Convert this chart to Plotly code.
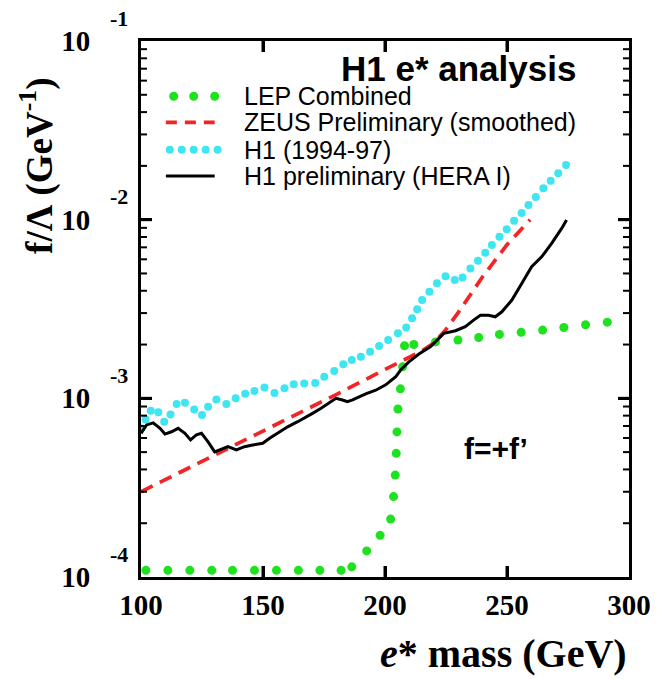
import plotly.graph_objects as go

# ---- limits on f/Lambda versus excited-electron mass ----
lep_mass = [102, 111, 120, 129, 137.5, 146.5, 155.5, 164.5, 173.3, 182, 186.4, 192.5,
            198, 202.3, 203.5, 204.2, 204.6, 204.9, 205.3, 206.3, 207.2, 208, 211.8,
            220.7, 229.9, 238.4, 246.9, 255.8, 264.6, 273.3, 282.2, 291.1]
lep_limit = [1.09e-4, 1.09e-4, 1.09e-4, 1.09e-4, 1.09e-4, 1.09e-4, 1.09e-4, 1.09e-4,
             1.09e-4, 1.09e-4, 1.14e-4, 1.40e-4, 1.71e-4, 2.11e-4, 2.82e-4, 3.72e-4,
             4.92e-4, 6.49e-4, 8.71e-4, 1.13e-3, 1.50e-3, 1.97e-3, 2.00e-3, 2.07e-3,
             2.12e-3, 2.19e-3, 2.28e-3, 2.34e-3, 2.41e-3, 2.49e-3, 2.58e-3, 2.67e-3]

zeus_mass = [100, 120, 140, 160, 180, 200, 210, 215, 220, 225, 230, 240, 250, 259.5]
zeus_limit = [3.00e-4, 4.10e-4, 5.62e-4, 7.69e-4, 1.05e-3, 1.45e-3, 1.70e-3, 1.84e-3,
              2.04e-3, 2.43e-3, 3.02e-3, 4.79e-3, 7.24e-3, 1.00e-2]

h1_old_mass = [100, 101.9, 104.0, 107.1, 109.5, 112.1, 114.6, 118.0, 121.8, 125.0, 127.5,
               130.9, 135.0, 138.8, 142.7, 146.5, 150.6, 154.7, 158.8, 162.6, 166.9, 171.4,
               175.1, 179.2, 182.9, 186.4, 190.1, 193.9, 197.6, 201.3, 205.3, 208.7, 211.1,
               213.2, 215.2, 218.2, 221.3, 224.8, 228.6, 231.8, 235.0, 238.1, 241.1, 243.8,
               246.9, 249.9, 252.9, 256.0, 258.8, 261.8, 264.9, 267.9, 271.0, 274.2]
h1_old_limit = [6.79e-4, 7.62e-4, 8.53e-4, 8.36e-4, 7.40e-4, 8.13e-4, 9.29e-4, 9.44e-4,
                8.67e-4, 8.07e-4, 8.97e-4, 9.86e-4, 9.29e-4, 1.00e-3, 1.06e-3, 1.10e-3,
                1.15e-3, 1.07e-3, 1.14e-3, 1.20e-3, 1.21e-3, 1.22e-3, 1.32e-3, 1.42e-3,
                1.55e-3, 1.64e-3, 1.71e-3, 1.82e-3, 1.96e-3, 2.12e-3, 2.31e-3, 2.49e-3,
                2.81e-3, 3.15e-3, 3.55e-3, 3.95e-3, 4.41e-3, 4.83e-3, 4.59e-3, 4.75e-3,
                5.33e-3, 5.89e-3, 6.53e-3, 7.21e-3, 8.02e-3, 8.83e-3, 9.86e-3, 1.09e-2,
                1.21e-2, 1.34e-2, 1.50e-2, 1.65e-2, 1.82e-2, 2.02e-2]

h1_hera_mass = [100, 102.3, 105.0, 107.8, 109.8, 112.5, 115.2, 118.0, 120.3, 122.7, 124.8,
                127.5, 130.2, 132.9, 135.6, 139.1, 142.4, 145.8, 149.9, 152.7, 156.7, 160.1,
                164.2, 166.9, 170.3, 173.8, 177.1, 179.9, 182.6, 184.6, 186.7, 189.4, 192.1,
                196.2, 200.3, 204.4, 206.4, 209.8, 213.9, 218.7, 222.0, 224.1, 228.9, 232.9,
                236.3, 239.1, 242.4, 245.2, 247.9, 252.0, 256.1, 260.1, 264.2, 268.3, 272.4,
                274.4]
h1_hera_limit = [6.37e-4, 7.10e-4, 7.29e-4, 6.79e-4, 6.31e-4, 6.50e-4, 6.79e-4, 6.37e-4,
                 5.85e-4, 6.24e-4, 6.37e-4, 5.71e-4, 5.02e-4, 5.19e-4, 5.36e-4, 5.14e-4,
                 5.36e-4, 5.48e-4, 5.60e-4, 5.97e-4, 6.50e-4, 6.93e-4, 7.40e-4, 7.73e-4,
                 8.24e-4, 8.79e-4, 9.38e-4, 1.00e-3, 9.79e-4, 9.57e-4, 9.79e-4, 1.02e-3,
                 1.06e-3, 1.11e-3, 1.19e-3, 1.32e-3, 1.44e-3, 1.60e-3, 1.77e-3, 1.95e-3,
                 2.17e-3, 2.31e-3, 2.39e-3, 2.52e-3, 2.74e-3, 2.92e-3, 2.92e-3, 2.86e-3,
                 3.05e-3, 3.55e-3, 4.41e-3, 5.46e-3, 6.19e-3, 7.36e-3, 8.93e-3, 9.95e-3]

series_names = ["LEP Combined", "ZEUS Preliminary (smoothed)", "H1 (1994-97)",
                "H1 preliminary (HERA I)"]

x_ticks = [100, 150, 200, 250, 300]
y_decades = [-4, -3, -2, -1]

GREEN = "#1fe21f"
RED = "#f22424"
CYAN = "#3fe6f2"
BLACK = "#000000"

SERIF = "Liberation Serif, Times New Roman, serif"
SANS = "Liberation Sans, Arial, Helvetica, sans-serif"

fig = go.Figure()

fig.add_trace(go.Scatter(x=lep_mass, y=lep_limit, mode="markers",
                         marker=dict(color=GREEN, size=9), showlegend=False))
fig.add_trace(go.Scatter(x=zeus_mass, y=zeus_limit, mode="lines",
                         line=dict(color=RED, width=3.7, dash="13px,8px"), showlegend=False))
fig.add_trace(go.Scatter(x=h1_old_mass, y=h1_old_limit, mode="markers",
                         marker=dict(color=CYAN, size=8), showlegend=False))
fig.add_trace(go.Scatter(x=h1_hera_mass, y=h1_hera_limit, mode="lines",
                         line=dict(color=BLACK, width=3), showlegend=False))

shapes = []

# tick marks on all four sides of the frame, pointing inward
MAJOR_LEN, MINOR_LEN = 11, 6
for v in x_ticks[1:-1]:
    for anchor, sign in ((0, 1), (1, -1)):
        shapes.append(dict(type="line", xref="x", yref="paper", ysizemode="pixel",
                           yanchor=anchor, x0=v, x1=v, y0=0, y1=sign * MAJOR_LEN,
                           line=dict(color=BLACK, width=3), layer="above"))
minor_y = [m * 10.0 ** d for d in y_decades[:-1] for m in range(2, 10)]
major_y = [10.0 ** d for d in y_decades[1:-1]]
for vals, length, width in ((major_y, MAJOR_LEN, 3), (minor_y, MINOR_LEN, 2)):
    for v in vals:
        for anchor, sign in ((0, 1), (1, -1)):
            shapes.append(dict(type="line", xref="paper", yref="y", xsizemode="pixel",
                               xanchor=anchor, x0=0, x1=sign * length, y0=v, y1=v,
                               line=dict(color=BLACK, width=width), layer="above"))

# hand-drawn key in paper coordinates
rows = [0.897, 0.848, 0.797, 0.748]
key_x0, key_x1 = 0.051, 0.151


def dot(xp, yp, color, r):
    return dict(type="circle", xref="paper", yref="paper", xsizemode="pixel",
                ysizemode="pixel", xanchor=xp, yanchor=yp, x0=-r, x1=r, y0=-r, y1=r,
                fillcolor=color, line=dict(width=0), layer="above")


for xp in [0.067, 0.108, 0.151]:
    shapes.append(dot(xp, rows[0], GREEN, 4.5))
shapes.append(dict(type="line", xref="paper", yref="paper", x0=key_x0, x1=key_x1,
                   y0=rows[1], y1=rows[1], line=dict(color=RED, width=3.7, dash="11px,8px")))
for i in range(5):
    shapes.append(dot(0.059 + i * 0.0245, rows[2], CYAN, 4))
shapes.append(dict(type="line", xref="paper", yref="paper", x0=key_x0, x1=key_x1,
                   y0=rows[3], y1=rows[3], line=dict(color=BLACK, width=3)))

annotations = []
for name, yr in zip(series_names, rows):
    annotations.append(dict(text=name, xref="paper", yref="paper", x=0.206, y=yr,
                            xanchor="left", yanchor="middle", showarrow=False,
                            font=dict(family=SANS, size=25, color="black")))

annotations.append(dict(text="<b>H1 e* analysis</b>", xref="paper", yref="paper",
                        x=0.651, y=0.948, xanchor="center", yanchor="middle",
                        showarrow=False, font=dict(family=SANS, size=35, color="black")))
annotations.append(dict(text="<b>f=+f’</b>", xref="x", yref="y", x=245.5, y=-3.278,
                        xanchor="center", yanchor="middle", showarrow=False,
                        font=dict(family=SANS, size=30, color="black")))

# decade exponents next to the "10" tick labels
for d in y_decades:
    annotations.append(dict(text=f"<b>{d}</b>", xref="paper", yref="y", x=-0.045, y=d,
                            yshift=23, xanchor="center", yanchor="middle",
                            showarrow=False,
                            font=dict(family=SERIF, size=22, color="black")))

annotations.append(dict(text="<b>f/Λ (GeV<sup>-1</sup>)</b>", xref="paper", yref="paper",
                        x=-0.212, y=0.768, textangle=-90, xanchor="center",
                        yanchor="middle", showarrow=False,
                        font=dict(family=SERIF, size=37, color="black")))
annotations.append(dict(text="<b><i>e</i>* mass (GeV)</b>", xref="paper", yref="paper",
                        x=1.0, y=-0.142, xanchor="right", yanchor="middle",
                        showarrow=False, font=dict(family=SERIF, size=40, color="black")))

fig.update_layout(
    width=663, height=679,
    margin=dict(l=141, r=32, t=41, b=102),
    paper_bgcolor="white", plot_bgcolor="white",
    showlegend=False,
    annotations=annotations,
    shapes=shapes,
    xaxis=dict(
        range=[100, 300], tickmode="array", tickvals=x_ticks,
        ticktext=[str(v) for v in x_ticks],
        ticks="inside", ticklen=MAJOR_LEN, tickwidth=3, tickcolor="black",
        showline=True, linewidth=3, linecolor="black", mirror="allticks",
        showgrid=False, zeroline=False,
        tickfont=dict(family=SERIF, size=29, color="black", weight="bold"),
    ),
    yaxis=dict(
        type="log", range=[-4, -1], tickmode="array",
        tickvals=[10.0 ** d for d in y_decades], ticktext=["10"] * len(y_decades),
        ticks="inside", ticklen=MAJOR_LEN, tickwidth=3, tickcolor="black",
        showline=True, linewidth=3, linecolor="black", mirror="allticks",
        showgrid=False, zeroline=False,
        tickfont=dict(family=SERIF, size=29, color="black", weight="bold"),
        ticklabelstandoff=42,
    ),
)

fig.write_html("out.html")
